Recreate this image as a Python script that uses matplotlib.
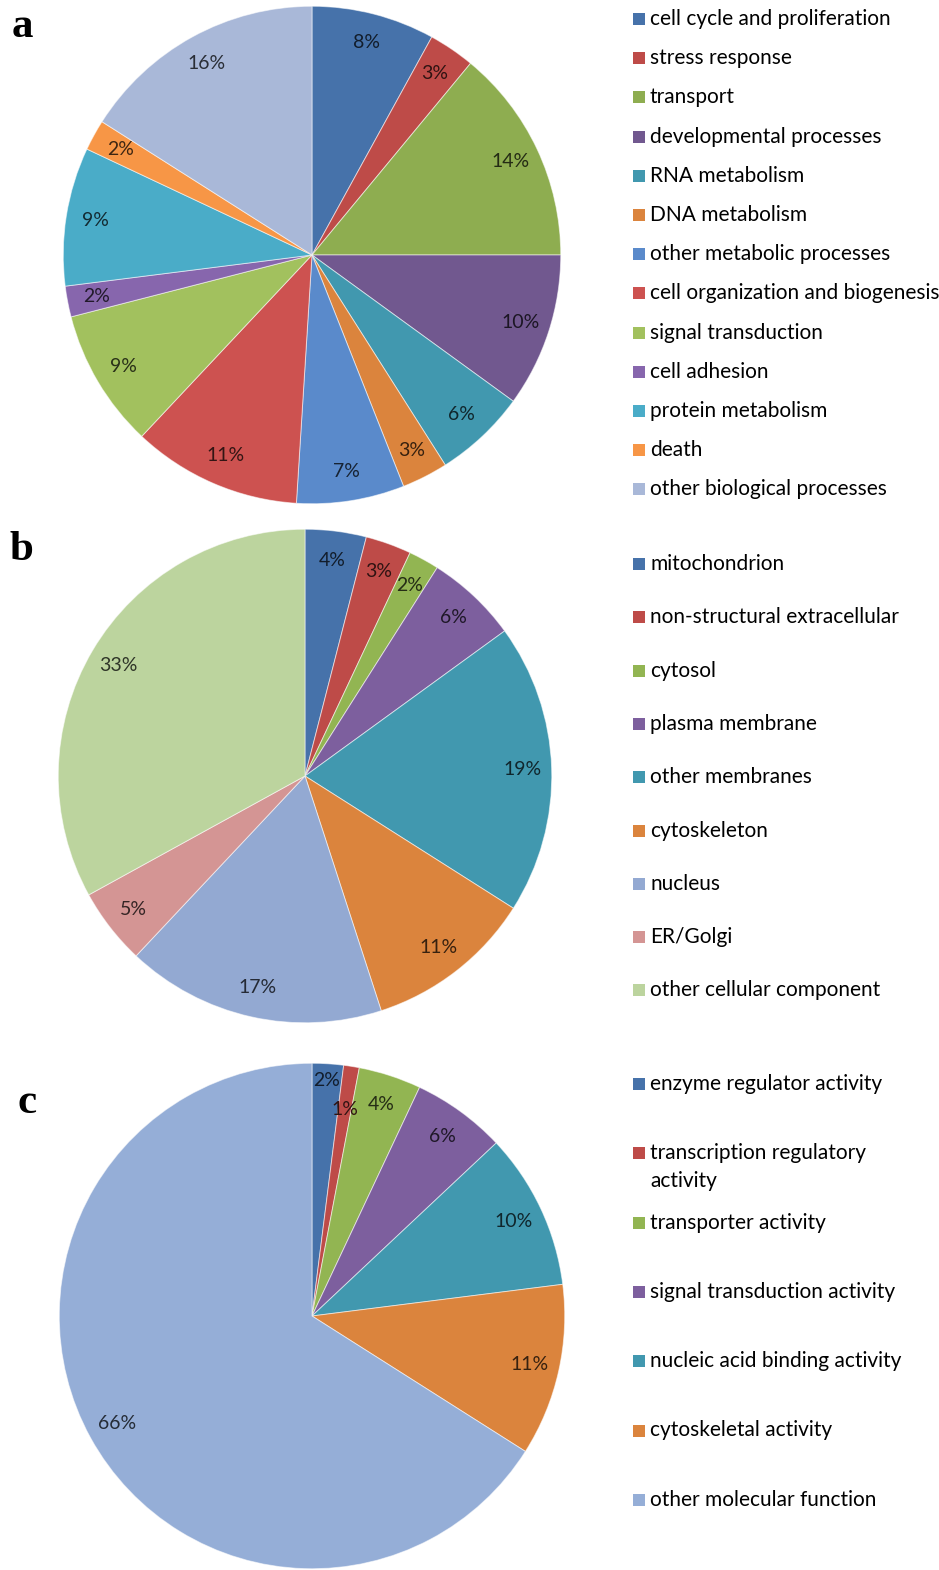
import matplotlib.pyplot as plt
from matplotlib.patches import Rectangle
from matplotlib.colors import to_rgb

W, H = 939, 1570

# (a) biological process
bio_labels = ["cell cycle and proliferation", "stress response", "transport",
              "developmental processes", "RNA metabolism", "DNA metabolism",
              "other metabolic processes", "cell organization and biogenesis",
              "signal transduction", "cell adhesion", "protein metabolism",
              "death", "other biological processes"]
bio_values = [8, 3, 14, 10, 6, 3, 7, 11, 9, 2, 9, 2, 16]
bio_colors = ["#4672AA", "#BE4B48", "#8EAD50", "#71588F", "#4198AF", "#DB843D",
              "#5A8ACB", "#CD5250", "#A2C15E", "#8766AD", "#4AACC8", "#F79646",
              "#A9B8D8"]

# (b) cellular component
cell_labels = ["mitochondrion", "non-structural extracellular", "cytosol",
               "plasma membrane", "other membranes", "cytoskeleton", "nucleus",
               "ER/Golgi", "other cellular component"]
cell_values = [4, 3, 2, 6, 19, 11, 17, 5, 33]
cell_colors = ["#4672AA", "#BE4B48", "#92B552", "#7D5F9E", "#4198AF", "#DB843D",
               "#93A9D2", "#D49594", "#BCD49E"]

# (c) molecular function
mol_labels = ["enzyme regulator activity", "transcription regulatory\nactivity",
              "transporter activity", "signal transduction activity",
              "nucleic acid binding activity", "cytoskeletal activity",
              "other molecular function"]
mol_values = [2, 1, 4, 6, 10, 11, 66]
mol_colors = ["#4672AA", "#BE4B48", "#92B552", "#7D5F9E", "#4198AF", "#DB843D",
              "#95AED7"]

FONT = "Lato"


def fx(x):
    return x / W


def fy(y):
    return 1 - y / H


def dark(c, f=0.25):
    r, g, b = to_rgb(c)
    return (r * f, g * f, b * f)


def draw_pie(fig, cx, cy, r, values, colors, pctdist=0.88, shift=None):
    ax = fig.add_axes([fx(cx - r), fy(cy + r), 2 * r / W, 2 * r / H])
    wedges, texts, autotexts = ax.pie(
        values, colors=colors, startangle=90, counterclock=False,
        autopct="%d%%", pctdistance=pctdist, radius=1,
        wedgeprops=dict(edgecolor=(1, 1, 1, 0.55), linewidth=0.7))
    for t, c in zip(autotexts, colors):
        t.set_fontfamily(FONT)
        t.set_fontsize(14)
        t.set_color(dark(c))
    # nudge crowded labels along their radius
    if shift:
        for i, k in shift.items():
            x, y = autotexts[i].get_position()
            autotexts[i].set_position((x * k, y * k))
    ax.set_xlim(-1.005, 1.005)
    ax.set_ylim(-1.005, 1.005)
    ax.set_aspect("equal")
    ax.axis("off")
    return ax


def draw_legend(fig, x, y0, step, labels, colors, size=15):
    for i, (lab, c) in enumerate(zip(labels, colors)):
        y = y0 + i * step
        fig.patches.append(Rectangle((fx(x), fy(y + 6)), 12 / W, 12 / H,
                                     transform=fig.transFigure,
                                     facecolor=c, edgecolor="none"))
        for j, line in enumerate(lab.split("\n")):
            fig.text(fx(x + 17), fy(y + j * 28), line, fontfamily=FONT,
                     fontsize=size, color="black", va="center", ha="left")


fig = plt.figure(figsize=(W / 100, H / 100), dpi=100)
fig.patch.set_facecolor("white")

draw_pie(fig, 312, 255, 250, bio_values, bio_colors)
draw_pie(fig, 305, 776, 248, cell_values, cell_colors)
draw_pie(fig, 312, 1316, 254, mol_values, mol_colors,
         shift={0: 1.06, 1: 0.94})

draw_legend(fig, 633, 19, 39.2, bio_labels, bio_colors)
draw_legend(fig, 633, 564, 53.3, cell_labels, cell_colors)
draw_legend(fig, 633, 1084, 69.3, mol_labels, mol_colors)

for letter, x, y in [("a", 22, 37), ("b", 21, 560), ("c", 27, 1113)]:
    fig.text(fx(x), fy(y), letter, fontfamily="Liberation Serif",
             fontweight="bold", fontsize=31, ha="center", va="baseline")

fig.savefig("out.png", dpi=100)
